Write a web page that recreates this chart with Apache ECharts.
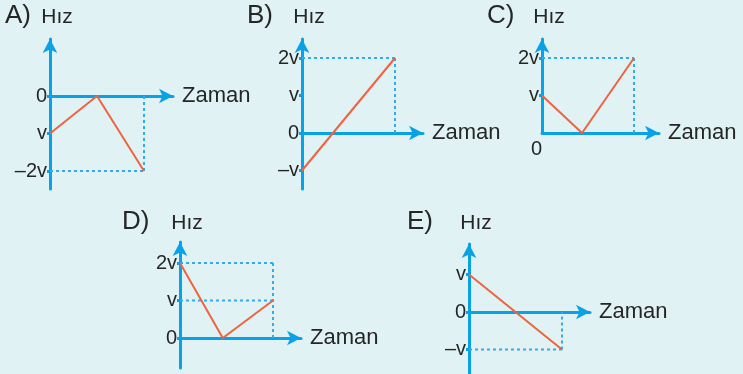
<!DOCTYPE html>
<html>
<head>
<meta charset="utf-8">
<script src="https://cdn.jsdelivr.net/npm/echarts@6/dist/echarts.min.js"></script>
<style>
  html, body { margin: 0; padding: 0; background: #e0f2f3; }
  #main { width: 743px; height: 374px; }
</style>
</head>
<body>
<div id="main"></div>
<script>
// panel letters and axis names
var panelNames = ['A)', 'B)', 'C)', 'D)', 'E)'];
var yName = 'Hız';
var xName = 'Zaman';

// time (x) and speed (y, in units of v) of each broken line
var timesA = [0, 1, 2];
var speedsA = [-1, 0, -2];
var timesB = [0, 2];
var speedsB = [-1, 2];
var timesC = [0, 0.87, 2];
var speedsC = [1, 0, 2];
var timesD = [0, 0.92, 2];
var speedsD = [2, 0, 1];
var timesE = [0, 2];
var speedsE = [1, -1];

// tick values on the speed axis and their labels
var ticksA = [0, -1, -2];
var tickLabelsA = ['0', 'v', '–2v'];
var ticksB = [2, 1, 0, -1];
var tickLabelsB = ['2v', 'v', '0', '–v'];
var ticksC = [2, 1];
var tickLabelsC = ['2v', 'v'];
var ticksD = [2, 1, 0];
var tickLabelsD = ['2v', 'v', '0'];
var ticksE = [1, 0, -1];
var tickLabelsE = ['v', '0', '–v'];

// dotted helper levels (horizontal) drawn up to the last time
var levelsA = [-2];
var levelsB = [2];
var levelsC = [2];
var levelsD = [2, 1];
var levelsE = [-1];

var panels = [
  { t: timesA, s: speedsA, ticks: ticksA, labels: tickLabelsA, levels: levelsA },
  { t: timesB, s: speedsB, ticks: ticksB, labels: tickLabelsB, levels: levelsB },
  { t: timesC, s: speedsC, ticks: ticksC, labels: tickLabelsC, levels: levelsC, zeroBelow: true },
  { t: timesD, s: speedsD, ticks: ticksD, labels: tickLabelsD, levels: levelsD },
  { t: timesE, s: speedsE, ticks: ticksE, labels: tickLabelsE, levels: levelsE }
];

// layout in pixels: origin, unit sizes, axis ends
var layout = [
  { ox: 50,  oy: 96,  ux: 47,   uy: 37.5, xEnd: 173, yTop: 39,  yBot: 189, title: [5, 3],    nameGap: 11 },
  { ox: 302, oy: 133, ux: 46.5, uy: 37.5, xEnd: 423, yTop: 39,  yBot: 189, title: [247, 3],  nameGap: 11 },
  { ox: 542, oy: 133, ux: 46,   uy: 37.5, xEnd: 659, yTop: 39,  yBot: 133, title: [487, 3],  nameGap: 11 },
  { ox: 180, oy: 338, ux: 46.5, uy: 37.5, xEnd: 301, yTop: 242, yBot: 368, title: [122, 209], nameGap: 8 },
  { ox: 469, oy: 312, ux: 46.5, uy: 37.5, xEnd: 590, yTop: 244, yBot: 380, title: [407, 209], nameGap: 10 }
];

var blue = '#0aa2e6';
var guideBlue = '#33abeb';
var orange = '#f0633f';
var textColor = '#262626';
var font = 'Liberation Sans, Arial, sans-serif';

var option = {
  backgroundColor: '#e0f2f3',
  animation: false,
  title: [],
  grid: [],
  xAxis: [],
  yAxis: [],
  series: []
};

panels.forEach(function (p, i) {
  var L = layout[i];
  option.title.push({
    text: panelNames[i],
    left: L.title[0],
    top: L.title[1],
    padding: 0,
    textStyle: { fontSize: 26, fontWeight: 'normal', color: textColor, fontFamily: font }
  });
  option.grid.push({
    left: L.ox,
    top: L.yTop,
    width: L.xEnd - L.ox,
    height: L.yBot - L.yTop,
    outerBoundsMode: 'none'
  });
  option.xAxis.push({
    type: 'value',
    gridIndex: i,
    min: 0,
    max: (L.xEnd - L.ox) / L.ux,
    name: xName,
    nameLocation: 'end',
    nameGap: 9,
    nameTextStyle: { fontSize: 22, color: textColor, fontFamily: font },
    axisLine: {
      onZero: true,
      symbol: ['none', 'arrow'],
      symbolSize: [11, 14],
      lineStyle: { color: blue, width: 3 }
    },
    axisTick: { show: false },
    splitLine: { show: false },
    axisLabel: p.zeroBelow ? {
      customValues: [0],
      formatter: function () { return '0'; },
      align: 'right',
      margin: 6,
      fontSize: 20,
      color: textColor,
      fontFamily: font
    } : { show: false }
  });
  option.yAxis.push({
    type: 'value',
    gridIndex: i,
    min: -(L.yBot - L.oy) / L.uy,
    max: (L.oy - L.yTop) / L.uy,
    name: yName,
    nameLocation: 'end',
    nameGap: L.nameGap,
    nameTextStyle: { fontSize: 21, color: textColor, fontFamily: font, padding: [0, 0, 0, 14] },
    axisLine: {
      onZero: true,
      symbol: ['none', 'arrow'],
      symbolSize: [11, 14],
      lineStyle: { color: blue, width: 3 }
    },
    axisTick: { show: true, customValues: p.ticks, length: 3, lineStyle: { color: blue, width: 3 } },
    splitLine: { show: false },
    axisLabel: {
      customValues: p.ticks,
      formatter: function (v) {
        var k = p.ticks.indexOf(v);
        return k >= 0 ? p.labels[k] : '';
      },
      margin: 3,
      fontSize: 20,
      color: textColor,
      fontFamily: font
    }
  });

  // dotted helpers from the last point
  var tEnd = p.t[p.t.length - 1];
  var top = Math.max.apply(null, p.levels.concat([0]));
  var bottom = Math.min.apply(null, p.levels.concat([0]));
  option.series.push({
    type: 'line', xAxisIndex: i, yAxisIndex: i, data: [[tEnd, bottom], [tEnd, top]],
    symbol: 'none', silent: true, z: 1,
    lineStyle: { color: guideBlue, width: 2, type: [3, 3] }
  });
  p.levels.forEach(function (lv) {
    option.series.push({
      type: 'line', xAxisIndex: i, yAxisIndex: i, data: [[0, lv], [tEnd, lv]],
      symbol: 'none', silent: true, z: 1,
      lineStyle: { color: guideBlue, width: 2, type: [3, 3] }
    });
  });

  option.series.push({
    type: 'line', xAxisIndex: i, yAxisIndex: i,
    data: p.t.map(function (t, k) { return [t, p.s[k]]; }),
    symbol: 'none', z: 3,
    lineStyle: { color: orange, width: 2 }
  });
});

var myChart = echarts.init(document.getElementById('main'));
myChart.setOption(option);
</script>
</body>
</html>
